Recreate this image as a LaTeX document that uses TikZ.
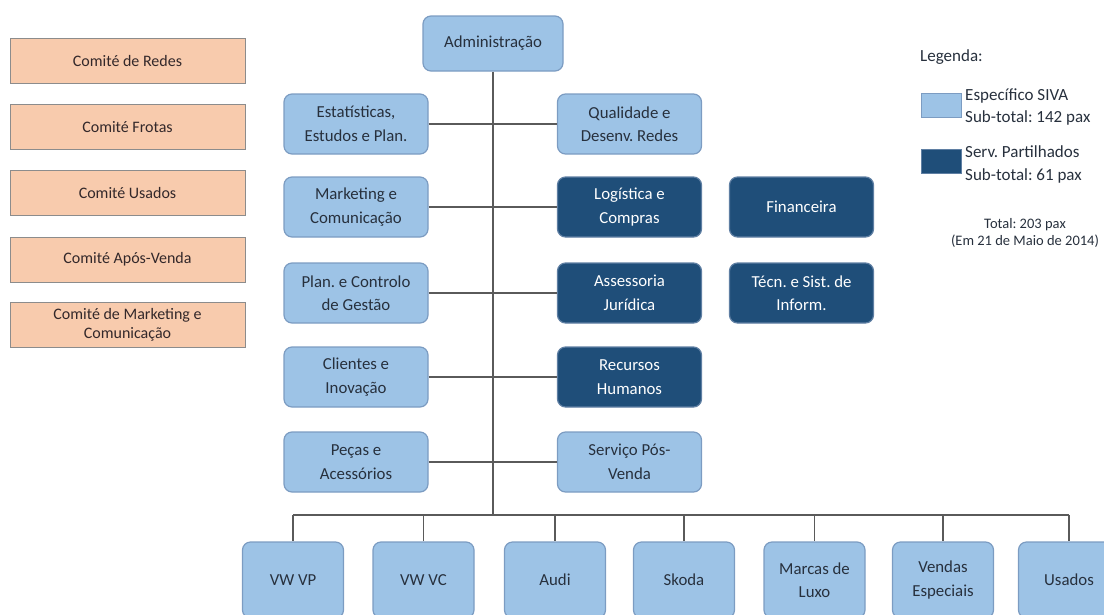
\documentclass[tikz,border=0pt]{standalone}
\usepackage{fontspec}
\setmainfont{Carlito}
\frenchspacing
\definecolor{sivablue}{HTML}{9DC3E6}
\definecolor{sivaedge}{HTML}{7C9CC2}
\definecolor{sivatext}{HTML}{27303D}
\definecolor{sharedblue}{HTML}{1F4E79}
\definecolor{sharededge}{HTML}{5F7FA3}
\definecolor{peach}{HTML}{F8CBAD}
\definecolor{peachedge}{HTML}{8C8C8C}
\definecolor{peachtext}{HTML}{33282A}
\definecolor{linkgray}{HTML}{5A5A5A}
\begin{document}
\begin{tikzpicture}[x=1pt, y=-1pt,
	unit/.style={draw=sivaedge, fill=sivablue, line width=1.2pt, rounded corners=8pt, minimum width=144pt, minimum height=60pt, inner sep=2pt, align=center, text=sivatext, font=\fontsize{16.8}{23.5}\selectfont},
	shared/.style={unit, draw=sharededge, fill=sharedblue, text=white},
	brand/.style={unit, minimum width=101pt, minimum height=76pt},
	committee/.style={draw=peachedge, fill=peach, line width=1pt, minimum width=235pt, minimum height=45pt, inner sep=1pt, align=center, text=peachtext, font=\fontsize{16}{19.5}\selectfont},
	swatch/.style={minimum width=40pt, minimum height=24pt, inner sep=0pt, line width=1pt},
	legendtext/.style={anchor=west, align=left, inner sep=0pt, text=sivatext, font=\fontsize{17}{22.5}\selectfont},
	link/.style={draw=linkgray, line width=1.3pt}]
	\useasboundingbox (0,0) rectangle (1104,614);

	\node [committee] (redes) at (127.5, 60.5) {Comité de Redes};
	\node [committee] (frotas) at (127.5, 127) {Comité Frotas};
	\node [committee] (usadoscom) at (127.5, 193) {Comité Usados};
	\node [committee] (aposvenda) at (127.5, 259.5) {Comité Após-Venda};
	\node [committee] (mkcom) at (127.5, 325) {Comité de Marketing e\\Comunicação};

	\node [unit, minimum width=140pt, minimum height=55pt] (adm) at (493, 43.5) {Administração};

	\node [unit] (estat) at (356, 124) {Estatísticas,\\Estudos e Plan.};
	\node [unit] (qual) at (629.5, 124) {Qualidade e\\Desenv. Redes};

	\node [unit] (mkt) at (356, 207) {Marketing e\\Comunicação};
	\node [shared] (logis) at (629.5, 207) {Logística e\\Compras};
	\node [shared] (finan) at (801.5, 207) {Financeira};

	\node [unit] (plan) at (356, 293) {Plan. e Controlo\\de Gestão};
	\node [shared] (jurid) at (629.5, 293) {Assessoria\\Jurídica};
	\node [shared] (tecn) at (801.5, 293) {Técn. e Sist. de\\Inform.};

	\node [unit] (clientes) at (356, 377) {Clientes e\\Inovação};
	\node [shared] (rh) at (629.5, 377) {Recursos\\Humanos};

	\node [unit] (pecas) at (356, 462) {Peças e\\Acessórios};
	\node [unit] (posvenda) at (629.5, 462) {Serviço Pós-\\Venda};

	\node [brand] (vwvp) at (293, 580) {VW VP};
	\node [brand] (vwvc) at (423.5, 580) {VW VC};
	\node [brand] (audi) at (555, 580) {Audi};
	\node [brand] (skoda) at (684, 580) {Skoda};
	\node [brand] (luxo) at (814.5, 580) {Marcas de\\Luxo};
	\node [brand] (especiais) at (943, 580) {Vendas\\Especiais};
	\node [brand] (usados) at (1069, 580) {Usados};

	\coordinate (bus) at (492, 515);
	\draw [link] (adm.south) -- (adm.south |- bus);
	\draw [link] (estat.east) -- (qual.west);
	\draw [link] (mkt.east) -- (logis.west);
	\draw [link] (plan.east) -- (jurid.west);
	\draw [link] (clientes.east) -- (rh.west);
	\draw [link] (pecas.east) -- (posvenda.west);
	\draw [link] (vwvp.north |- bus) -- (usados.north |- bus);
	\foreach \b in {vwvp, vwvc, audi, skoda, luxo, especiais, usados}
		\draw [link] (\b.north |- bus) -- (\b.north);

	\node [legendtext] (legenda) at (920, 57) {Legenda:};
	\node [swatch, draw=sivaedge, fill=sivablue] (sivakey) at (941, 105) {};
	\node [legendtext] (sivalabel) at (965, 107) {Específico SIVA\\Sub-total: 142 pax};
	\node [swatch, draw=sharededge, fill=sharedblue] (sharedkey) at (941, 161.5) {};
	\node [legendtext] (sharedlabel) at (965, 164.5) {Serv. Partilhados\\Sub-total: 61 pax};
	\node [align=center, inner sep=0pt, text=sivatext, font=\fontsize{14.5}{16.5}\selectfont] (total) at (1025, 233) {Total: 203 pax\\(Em 21 de Maio de 2014)};

\end{tikzpicture}
\end{document}
